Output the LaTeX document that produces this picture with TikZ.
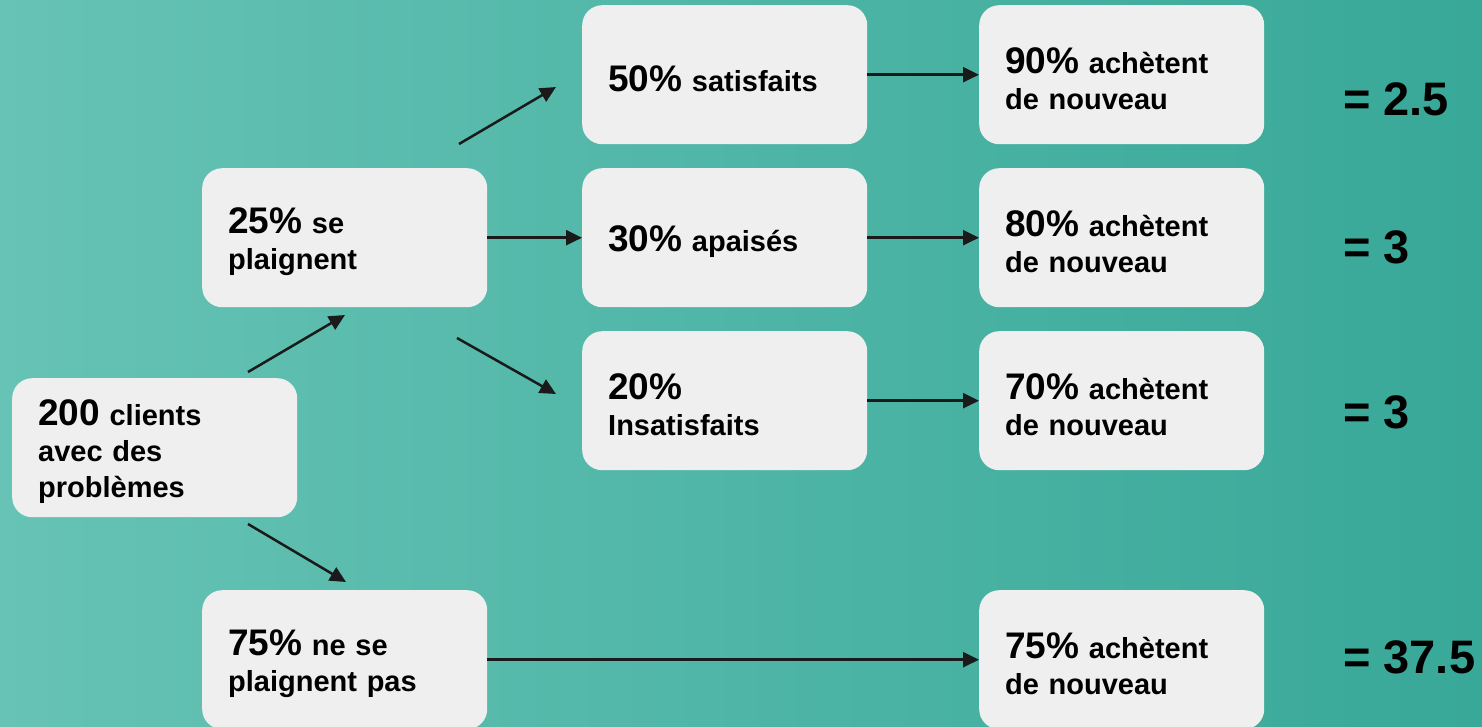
\documentclass[tikz,border=0pt]{standalone}
\usepackage{fontspec}
\setmainfont{Liberation Sans}
\usetikzlibrary{arrows.meta,calc}
\definecolor{boxfill}{HTML}{EFEFEF}
\definecolor{bgleft}{RGB}{102,195,181}
\definecolor{bgright}{RGB}{56,168,152}
\definecolor{ink}{HTML}{1A1A1A}
% larger figure at the start of each card (with a strut for the first line)
\newcommand{\numtxt}[1]{{\fontsize{37}{37}\selectfont\rule{0pt}{34pt}#1}}
\begin{document}
\begin{tikzpicture}[x=1pt,y=-1pt,
  card/.style={rectangle, rounded corners=20pt, fill=boxfill,
    minimum width=285pt, minimum height=139pt, text width=233pt,
    inner xsep=26pt, inner ysep=0pt, align=left, anchor=north west,
    font=\bfseries\fontsize{29}{36}\selectfont, text=black},
  link/.style={draw=ink, line width=2.5pt, -{Triangle[length=16pt,width=15pt]}},
  total/.style={font=\bfseries\fontsize{47}{47}\selectfont, anchor=west,
    text=black, inner sep=0pt}]

% background
\shade[left color=bgleft, right color=bgright] (0,0) rectangle (1482,726);
\useasboundingbox (0,0) rectangle (1482,726);

% cards
\node[card] (start) at (12,378) {\numtxt{200} clients\\avec des\\problèmes};
\node[card] (plain) at (202,168) {\numtxt{25\%} se\\plaignent};
\node[card] (quiet) at (202,590) {\numtxt{75\%} ne se\\plaignent pas};
\node[card] (sat)   at (582,5)   {\numtxt{50\%} satisfaits};
\node[card] (calm)  at (582,168) {\numtxt{30\%} apaisés};
\node[card] (unsat) at (582,331) {\numtxt{20\%}\\Insatisfaits};
\node[card] (rb1) at (979,5)   {\numtxt{90\%} achètent\\de nouveau};
\node[card] (rb2) at (979,168) {\numtxt{80\%} achètent\\de nouveau};
\node[card] (rb3) at (979,331) {\numtxt{70\%} achètent\\de nouveau};
\node[card] (rb4) at (979,590) {\numtxt{75\%} achètent\\de nouveau};

% results
\node[total] (t1) at (1343,99) {= 2.5};
\node[total] (t2) at (1343,247) {= 3};
\node[total] (t3) at (1343,412) {= 3};
\node[total] (t4) at (1343,657) {= 37.5};

% free ends of the diagonal connectors
\coordinate (upA) at (248,372);  \coordinate (upB) at (345,315);
\coordinate (dnA) at (248,524);  \coordinate (dnB) at (346,582);
\coordinate (satA) at (459,144); \coordinate (satB) at (556,87);
\coordinate (unA) at (457,338);  \coordinate (unB) at (556,394);

% connectors
\draw[link] (upA) -- (upB);
\draw[link] (dnA) -- (dnB);
\draw[link] (satA) -- (satB);
\draw[link] (unA) -- (unB);
\draw[link] (plain.east) -- (calm.west);
\draw[link] (sat.east) -- (rb1.west);
\draw[link] (calm.east) -- (rb2.west);
\draw[link] (unsat.east) -- (rb3.west);
\draw[link] (quiet.east) -- (rb4.west);
\end{tikzpicture}
\end{document}
